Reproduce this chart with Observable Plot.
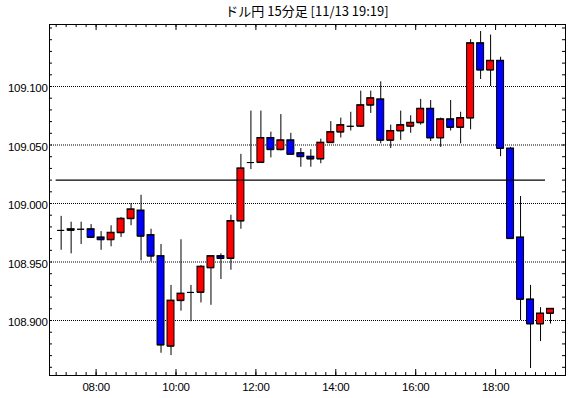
<!DOCTYPE html>
<html><head><meta charset="utf-8">
<script src="https://cdn.jsdelivr.net/npm/d3@7"></script>
<script src="https://cdn.jsdelivr.net/npm/@observablehq/plot@0.6"></script>
<style>
body{margin:0;background:#fff;}
#title{height:20px;width:570px;box-sizing:border-box;padding-left:44px;text-align:center;font:13px "Noto Sans CJK JP",sans-serif;line-height:22px;color:#000;}
</style></head><body>
<div id="title">ドル円 15分足 [11/13 19:19]</div>
<div id="chart"></div>
<script>
const day = "2019-11-13";
const times = ["07:00","07:15","07:30","07:45","08:00","08:15","08:30","08:45","09:00","09:15",
  "09:30","09:45","10:00","10:15","10:30","10:45","11:00","11:15","11:30","11:45",
  "12:00","12:15","12:30","12:45","13:00","13:15","13:30","13:45","14:00","14:15",
  "14:30","14:45","15:00","15:15","15:30","15:45","16:00","16:15","16:30","16:45",
  "17:00","17:15","17:30","17:45","18:00","18:15","18:30","18:45","19:00","19:15"];
const open = [108.977,108.978,108.978,108.978,108.971,108.969,108.975,108.987,108.994,108.973,
  108.955,108.878,108.917,108.924,108.924,108.945,108.955,108.953,108.985,109.035,
  109.035,109.056,109.046,109.054,109.043,109.040,109.038,109.052,109.061,109.066,
  109.066,109.084,109.089,109.054,109.062,109.066,109.069,109.081,109.056,109.072,
  109.065,109.073,109.137,109.114,109.122,109.047,108.971,108.918,108.897,108.906];
const high = [108.989,108.984,108.984,108.982,108.976,108.981,108.988,109.000,109.007,108.978,
  108.965,108.930,108.969,108.930,108.947,108.955,108.957,108.990,109.042,109.079,
  109.079,109.061,109.076,109.060,109.047,109.046,109.055,109.070,109.073,109.078,
  109.096,109.096,109.104,109.067,109.079,109.075,109.089,109.088,109.073,109.088,
  109.078,109.140,109.147,109.144,109.125,109.048,109.006,108.930,108.911,108.910];
const low = [108.960,108.957,108.965,108.970,108.960,108.963,108.971,108.981,108.951,108.950,
  108.872,108.870,108.908,108.899,108.915,108.913,108.935,108.943,108.978,109.029,
  109.035,109.039,109.045,109.042,109.031,109.031,109.034,109.052,109.056,109.062,
  109.065,109.077,109.051,109.047,109.054,109.060,109.067,109.053,109.048,109.062,
  109.051,109.063,109.106,109.100,109.040,108.970,108.900,108.859,108.882,108.897];
const close = [108.977,108.977,108.978,108.971,108.969,108.975,108.987,108.995,108.972,108.955,
  108.879,108.917,108.923,108.924,108.946,108.955,108.953,108.985,109.030,109.035,
  109.056,109.046,109.054,109.042,109.040,109.038,109.052,109.061,109.067,109.066,
  109.084,109.090,109.054,109.062,109.067,109.069,109.081,109.056,109.072,109.065,
  109.073,109.137,109.114,109.122,109.047,108.970,108.918,108.897,108.906,108.910];
const refLevel = 109.020;
const yTickLabels = ["108.900","108.950","109.000","109.050","109.100"];
const xTickLabels = ["08:00","10:00","12:00","14:00","16:00","18:00"];
const xDomain = ["06:50","19:45"];
const yDomain = [108.853, 109.153];

const toDate = t => new Date(`${day}T${t}:00Z`);
const MIN = 60000;
const data = times.map((t, i) => {
  const s = toDate(t);
  return {start: s, end: new Date(+s + 15*MIN), mid: new Date(+s + 7.5*MIN),
    open: open[i], high: high[i], low: low[i], close: close[i],
    color: close[i] > open[i] ? "#ff0000" : close[i] < open[i] ? "#0000ff" : "#000000"};
});
const xD = xDomain.map(toDate);
const xMajor = xTickLabels.map(toDate);
const xMinor = d3.utcMinute.every(15).range(toDate("07:00"), xD[1]);
const yMajor = yTickLabels.map(Number);
const yMinor = d3.ticks(yDomain[0], yDomain[1], 30);
const W = 570, H = 378, mT = 4, mB = 23, mL = 49, mR = 5;
const fw = W - mL - mR, fh = H - mT - mB;
const font = '"Liberation Sans",Arial,sans-serif';

const chart = Plot.plot({
  width: W, height: H, marginTop: mT, marginBottom: mB, marginLeft: mL, marginRight: mR,
  style: {fontFamily: font, fontSize: "11.5px", color: "#000", background: "#fff", letterSpacing: "-0.3px"},
  x: {type: "utc", domain: xD},
  y: {domain: yDomain},
  marks: [
    Plot.ruleY(yMajor, {y: d => d, stroke: "#000", strokeDasharray: "1,1"}),
    Plot.ruleX(data, {x: "mid", y1: "low", y2: "high", stroke: "#000", strokeWidth: 1}),
    Plot.rectY(data, {x1: "start", x2: "end", y1: "open", y2: "close", fill: "color",
      stroke: "#000", strokeWidth: 1, insetLeft: 1.5, insetRight: 1.5}),
    Plot.ruleY(data, {y: "close", x1: "start", x2: "end", insetLeft: 1.5, insetRight: 1.5, stroke: "#000", strokeWidth: 1}),
    Plot.ruleY(data, {y: "open", x1: "start", x2: "end", insetLeft: 1.5, insetRight: 1.5, stroke: "#000", strokeWidth: 1}),
    Plot.ruleY([refLevel], {y: d => d, x1: data[0].start, x2: data[data.length-1].start, stroke: "#000", strokeWidth: 1.2}),
    Plot.tickX(xMinor, {x: d => d, insetTop: fh - 3, stroke: "#000"}),
    Plot.tickX(xMinor, {x: d => d, insetBottom: fh - 3, stroke: "#000"}),
    Plot.tickX(xMajor, {x: d => d, insetTop: fh - 6, stroke: "#000"}),
    Plot.tickX(xMajor, {x: d => d, insetBottom: fh - 6, stroke: "#000"}),
    Plot.tickY(yMinor, {y: d => d, insetRight: fw - 3, stroke: "#000"}),
    Plot.tickY(yMinor, {y: d => d, insetLeft: fw - 3, stroke: "#000"}),
    Plot.axisX(xMajor, {tickSize: 0, tickPadding: 7, tickFormat: (d, i) => xTickLabels[i]}),
    Plot.axisY(yMajor, {tickSize: 0, tickPadding: 2, dy: 2, tickFormat: (d, i) => yTickLabels[i]}),
    Plot.frame({stroke: "#000", strokeWidth: 1})
  ]
});
document.getElementById("chart").appendChild(chart);
</script>
</body></html>
